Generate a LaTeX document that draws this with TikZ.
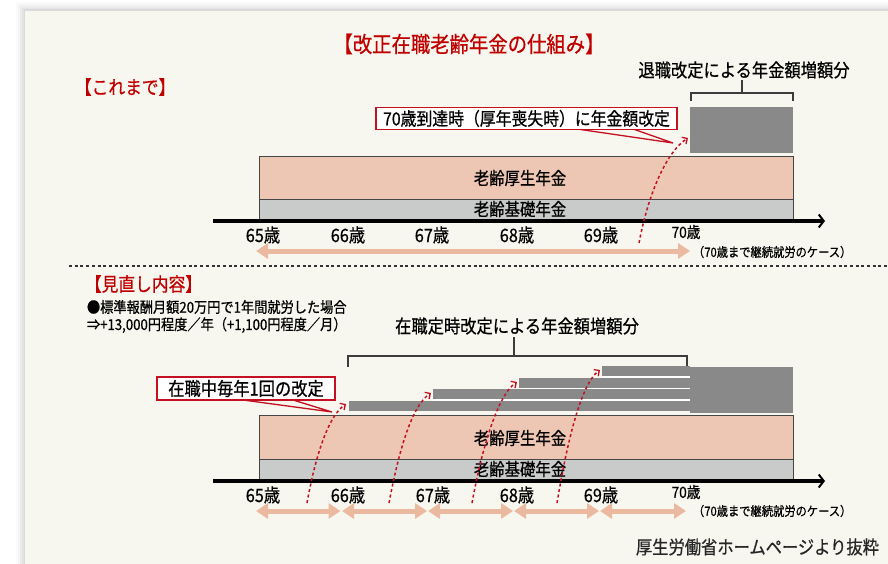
\documentclass[tikz,border=0pt]{standalone}
\usepackage{fontspec}
\setmainfont{Noto Sans CJK JP}[FakeStretch=0.88,FakeBold=0.6]
\usetikzlibrary{arrows.meta}
\definecolor{panel}{RGB}{247,246,239}
\definecolor{redt}{RGB}{192,0,0}
\definecolor{redc}{RGB}{196,16,32}
\definecolor{pinkbar}{RGB}{238,199,180}
\definecolor{graybar}{RGB}{201,202,202}
\definecolor{blk}{RGB}{137,137,137}
\definecolor{arrc}{RGB}{235,185,160}
\definecolor{edge}{RGB}{70,70,70}
\definecolor{brkc}{RGB}{60,60,60}
\begin{document}
\begin{tikzpicture}[x=1pt,y=-1pt,
  every node/.style={inner sep=0pt,outer sep=0pt},
  jt/.style={font=\fontsize{#1}{#1}\selectfont},
  pinkbox/.style={draw=edge,fill=pinkbar,line width=0.9pt,minimum width=534pt,minimum height=43pt},
  graybox/.style={draw=edge,fill=graybar,line width=0.9pt,minimum width=534pt,minimum height=22pt},
  blockbox/.style={fill=blk},
  brk/.style={draw=brkc,line width=1.4pt},
  calloutbox/.style={draw=redc,fill=white,line width=1.8pt},
  ptr/.style={draw=redc,line width=1.3pt},
  dsh/.style={draw=redc,line width=1.5pt,dash pattern=on 3pt off 2.6pt,-{Straight Barb[length=4pt,width=8pt,line width=1.3pt]}},
  axisline/.style={draw=black,line width=3.2pt,-{Straight Barb[length=5pt,width=13pt,line width=2pt]}},
  darr/.style={draw=arrc,line width=5pt,{Triangle[length=12pt,width=15pt]}-{Triangle[length=12pt,width=15pt]}},
  agelbl/.style={jt=18.5},
  notelbl/.style={jt=12.8,anchor=west}
]
\useasboundingbox (0,0) rectangle (888,564);
\fill[white] (0,0) rectangle (888,564);
\foreach \i/\o in {9/0.02,7/0.025,5/0.03,3/0.035,1.5/0.04}{
  \fill[black,opacity=\o] (25-\i,11-\i) rectangle (900,580);
}
\fill[panel] (25,11) rectangle (900,580);

% ---------- titles ----------
\node[jt=22,text=redt] (title) at (469,44) {【改正在職老齢年金の仕組み】};
\node[jt=19,text=redt,anchor=west] (kore) at (75,87) {【これまで】};

% ---------- upper section ----------
\node[jt=18.5] (taishoku) at (744,70) {退職改定による年金額増額分};
\coordinate (tb0) at (742,80);
\coordinate (tb1) at (742,93);
\coordinate (tbl) at (691,93);
\coordinate (tbr) at (793,93);
\draw[brk] (tb0) -- (tb1);
\draw[brk] ([yshift=-8pt]tbl) -- (tbl) -- (tbr) -- ([yshift=-8pt]tbr);
\node[blockbox,minimum width=103pt,minimum height=46pt,anchor=north west] (blk1) at (690,107) {};

\node[pinkbox,anchor=north west] (kousei1) at (259,156) {};
\node[graybox,anchor=north west] (kiso1) at (259,199) {};
\node[jt=17.5] (kouseiT1) at (520,178) {老齢厚生年金};
\node[jt=17.5] (kisoT1) at (520,209) {老齢基礎年金};

\coordinate (ax1a) at (213,221);
\coordinate (ax1b) at (825,221);
\draw[axisline] (ax1a) -- (ax1b);

\node[agelbl] (a65) at (263,235) {65歳};
\node[agelbl] (a66) at (348,235) {66歳};
\node[agelbl] (a67) at (432,235) {67歳};
\node[agelbl] (a68) at (517,235) {68歳};
\node[agelbl] (a69) at (601,235) {69歳};
\node[jt=15.5] (a70) at (686,232) {70歳};

\coordinate (da0) at (256,251);
\coordinate (da1) at (690,251);
\draw[darr] (da0) -- (da1);
\node[notelbl] (case1) at (693,252) {（70歳まで継続就労のケース）};

\coordinate (ds1) at (639,243);
\coordinate (de1) at (688,138);
\draw[dsh] (ds1) .. controls +(9,-48) and +(-22,14) .. (de1);

\node[calloutbox,minimum width=301pt,minimum height=22pt] (co1) at (526.5,118.5) {};
\node[jt=18] (co1t) at (co1) {70歳到達時（厚年喪失時）に年金額改定};
\coordinate (co1tip) at (673,143);
\draw[ptr] ([xshift=54pt]co1.south) -- (co1tip) -- ([xshift=108pt]co1.south);

% ---------- separator ----------
\coordinate (sep0) at (69,266);
\coordinate (sep1) at (888,266);
\draw[draw=black!80,line width=2.2pt,dash pattern=on 3pt off 2.7pt] (sep0) -- (sep1);

% ---------- lower section ----------
\node[jt=19,text=redt,anchor=west] (mina) at (85,284) {【見直し内容】};
\node[jt=15,anchor=west] (line1) at (87,307) {●標準報酬月額20万円で1年間就労した場合};
\node[jt=15,anchor=west] (line2) at (87,325) {⇒+13,000円程度／年（+1,100円程度／月）};
\node[jt=18.5] (zaishoku) at (517,326) {在職定時改定による年金額増額分};

\coordinate (bb0) at (514,337);
\coordinate (bb1) at (514,356);
\coordinate (bbl) at (348,356);
\coordinate (bbr) at (687,356);
\draw[brk] (bb0) -- (bb1);
\draw[brk] ([yshift=-11pt]bbl) -- (bbl) -- (bbr) -- ([yshift=-11pt]bbr);

\node[blockbox,minimum width=341pt,minimum height=10pt,anchor=north west] (b1) at (349,401) {};
\node[blockbox,minimum width=257pt,minimum height=10pt,anchor=north west] (b2) at (433,389.3) {};
\node[blockbox,minimum width=171pt,minimum height=10pt,anchor=north west] (b3) at (519,377.6) {};
\node[blockbox,minimum width=88pt,minimum height=10pt,anchor=north west] (b4) at (602,365.9) {};
\fill[white] (433,399.3) rectangle (690,401);
\fill[white] (519,387.6) rectangle (690,389.3);
\fill[white] (602,375.9) rectangle (690,377.6);
\node[blockbox,minimum width=103pt,minimum height=46pt,anchor=north west] (blk2) at (690,367) {};

\node[pinkbox,minimum height=44pt,anchor=north west] (kousei2) at (259,415) {};
\node[graybox,anchor=north west] (kiso2) at (259,459) {};
\node[jt=17.5] (kouseiT2) at (520,438) {老齢厚生年金};
\node[jt=17.5] (kisoT2) at (520,469) {老齢基礎年金};

\coordinate (ax2a) at (213,481);
\coordinate (ax2b) at (825,481);
\draw[axisline] (ax2a) -- (ax2b);

\node[agelbl] (b65) at (263,495) {65歳};
\node[agelbl] (b66) at (348,495) {66歳};
\node[agelbl] (b67) at (433,495) {67歳};
\node[agelbl] (b68) at (517,495) {68歳};
\node[agelbl] (b69) at (601,495) {69歳};
\node[jt=15.5] (b70) at (686,492) {70歳};

\coordinate (p0) at (256,511);
\coordinate (p1) at (341,511);
\coordinate (p2) at (427.5,511);
\coordinate (p3) at (513.5,511);
\coordinate (p4) at (599.5,511);
\coordinate (p5) at (686,511);
\draw[darr] (p0) -- ([xshift=-0.5pt]p1);
\draw[darr] ([xshift=1pt]p1) -- ([xshift=-0.5pt]p2);
\draw[darr] ([xshift=0.5pt]p2) -- ([xshift=-0.5pt]p3);
\draw[darr] ([xshift=0.5pt]p3) -- ([xshift=-0.5pt]p4);
\draw[darr] ([xshift=0.5pt]p4) -- (p5);
\node[notelbl] (case2) at (693,511) {（70歳まで継続就労のケース）};

\coordinate (s1) at (307,503);
\coordinate (s2) at (389,503);
\coordinate (s3) at (472,503);
\coordinate (s4) at (557,503);
\coordinate (e1) at (346,404);
\coordinate (e2) at (431,393);
\coordinate (e3) at (517,382);
\coordinate (e4) at (600,370);
\draw[dsh] (s1) .. controls +(8,-45) and +(-18,12) .. (e1);
\draw[dsh] (s2) .. controls +(9,-48) and +(-20,13) .. (e2);
\draw[dsh] (s3) .. controls +(9,-50) and +(-20,13) .. (e3);
\draw[dsh] (s4) .. controls +(9,-54) and +(-20,14) .. (e4);

\node[calloutbox,minimum width=178pt,minimum height=23pt] (co2) at (246,388.5) {};
\node[jt=18.5] (co2t) at (co2) {在職中毎年1回の改定};
\coordinate (co2tip) at (332,412);
\draw[ptr] ([xshift=-3pt]co2.south) -- (co2tip) -- ([xshift=47pt]co2.south);

\node[jt=18.5,anchor=east,text=black!85] (src) at (879,547) {厚生労働省ホームページより抜粋};
\end{tikzpicture}
\end{document}
